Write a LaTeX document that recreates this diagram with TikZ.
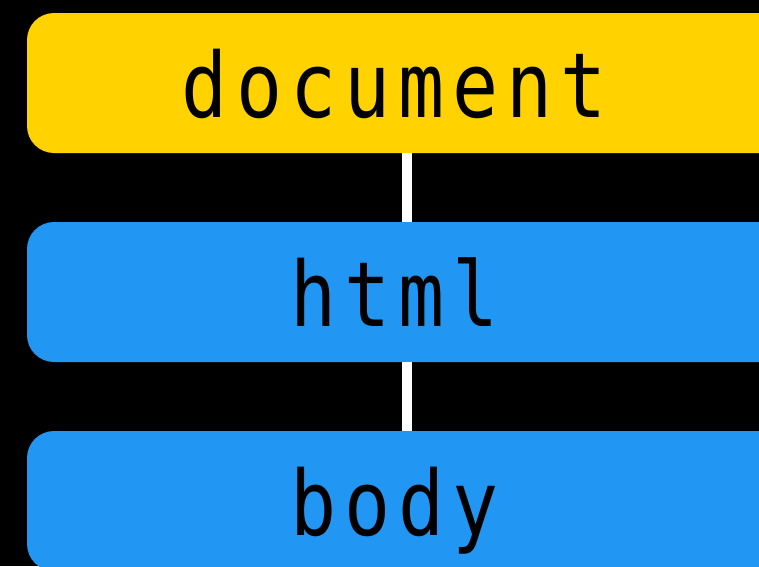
\documentclass[tikz,border=0pt]{standalone}
\usepackage{fontspec}
\newfontfamily\codefont[FakeStretch=0.85,LetterSpace=9]{DejaVu Sans Mono}
\definecolor{docyellow}{RGB}{255,210,0}
\definecolor{nodeblue}{RGB}{33,150,243}
\begin{document}
\begin{tikzpicture}[x=1pt,y=1pt,
  treebox/.style={rounded corners=27pt, minimum width=759pt, minimum height=140pt,
    inner sep=0pt, text=black, font=\codefont\fontsize{90}{90}\selectfont,
    text height=68pt, text depth=0pt},
  link/.style={draw=white, line width=10pt}]
  \fill[black] (0,0) rectangle (759,-566);
  \useasboundingbox (0,0) rectangle (759,-566);
  % labels sit slightly left of the box centre
  \node[treebox, fill=docyellow] (doc) at (406.5,-83) {document\kern24pt};
  \node[treebox, fill=nodeblue] (html) at (406.5,-292) {html\kern24pt};
  \node[treebox, fill=nodeblue] (body) at (406.5,-501) {body\kern24pt};
  \draw[link] (doc.south) -- (html.north);
  \draw[link] (html.south) -- (body.north);
\end{tikzpicture}
\end{document}
